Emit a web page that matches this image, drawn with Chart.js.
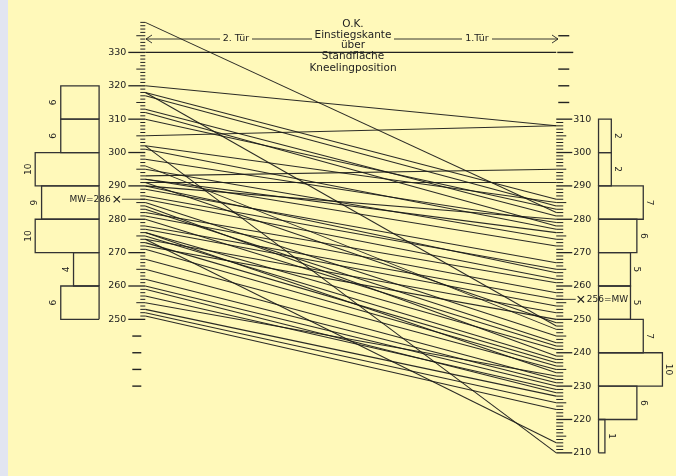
<!DOCTYPE html>
<html><head><meta charset="utf-8">
<script src="https://cdn.jsdelivr.net/npm/chart.js@4/dist/chart.umd.min.js"></script>
<style>
html,body{margin:0;padding:0;background:#e2e5f1;}
#wrap{width:676px;height:476px;position:relative;}
canvas{display:block;}
</style>
</head><body>
<div id="wrap"><canvas id="c" width="676" height="476"></canvas></div>
<script>
// ---- data ----
const leftValues  = [339,320,305,293,291,318,317,313,312,310,302,301,298,295,292,290,292,289,287,286,282,318,302,281,278,277,274,272,291,296,290,285,283,280,276,284,275,273,271,268,276,255,265,262,260,257,259,253,252,251,274];
const rightValues = [282,308,308,295,291,286,284,281,278,283,285,277,279,274,272,280,276,267,265,262,261,248,210,258,256,254,252,250,249,247,264,245,243,242,241,239,238,237,236,235,234,233,232,231,230,229,228,227,225,223,213];
const leftBinLows   = [250,260,270,280,290,300,310];
const leftCounts    = [6,4,10,9,10,6,6];
const rightBinLows  = [210,220,230,240,250,260,270,280,290,300];
const rightCounts   = [1,6,10,7,5,5,6,7,2,2];
const meanLeft = 286, meanRight = 256;
const leftTicks  = [250,260,270,280,290,300,310,320,330];
const rightTicks = [210,220,230,240,250,260,270,280,290,300,310];
const refLevel = 330;
const titleLines = ["O.K.","Einstiegskante","über","Standfläche","Kneelingposition"];
const door2 = "2. Tür", door1 = "1.Tür";

// ---- layout (x unit = one histogram count) ----
const PX = 6.5;
const AXIS_L = 0, AXIS_R = (560-142)/PX;
const HIST_L = (95-142)/PX, HIST_R = (603-142)/PX;
const XMIN = -142/PX, XMAX = XMIN + 676/PX;
const MW_L_X = (113-142)/PX, MW_R_X = (585-142)/PX;
const ink = '#222222';
const FONT = '"DejaVu Sans", sans-serif';

const datasets = [];
leftValues.forEach((lv,i)=>{
  datasets.push({data:[{x:AXIS_L,y:lv},{x:AXIS_R,y:rightValues[i]}],
    borderColor:'rgba(25,25,25,0.92)',borderWidth:1.05,pointRadius:0,tension:0});
});
datasets.push({data:[{x:AXIS_L,y:refLevel},{x:AXIS_R,y:refLevel}],borderColor:ink,borderWidth:1.4,pointRadius:0});
function histRect(base,lo,hi,c,dir){
  const o = base + dir*c;
  return [{x:base,y:lo},{x:o,y:lo},{x:o,y:hi},{x:base,y:hi},{x:base,y:lo}];
}
leftBinLows.forEach((lo,i)=>datasets.push({data:histRect(HIST_L,lo,lo+10,leftCounts[i],-1),borderColor:'#333',borderWidth:1.3,pointRadius:0,tension:0}));
rightBinLows.forEach((lo,i)=>datasets.push({data:histRect(HIST_R,lo,lo+10,rightCounts[i],1),borderColor:'#333',borderWidth:1.3,pointRadius:0,tension:0}));
// mean markers
datasets.push({data:[{x:MW_L_X,y:meanLeft},{x:MW_R_X,y:meanRight}],showLine:false,pointStyle:'crossRot',pointRadius:4.5,borderColor:ink,borderWidth:1.2});
datasets.push({data:[{x:MW_L_X+0.8,y:meanLeft},{x:AXIS_L,y:meanLeft}],borderColor:ink,borderWidth:0.9,pointRadius:0});
datasets.push({data:[{x:AXIS_R,y:meanRight},{x:MW_R_X-0.8,y:meanRight}],borderColor:ink,borderWidth:0.9,pointRadius:0});

const decor = {
  id:'decor',
  beforeDraw(chart){
    const c=chart.ctx; c.save();
    c.fillStyle='#e2e5f1'; c.fillRect(0,0,676,476);
    c.fillStyle='#fff9ba'; c.fillRect(8,0,668,476);
    c.restore();
  },
  afterDatasetsDraw(chart){
    const c=chart.ctx, ys=chart.scales.y, xs=chart.scales.x;
    const Y=v=>ys.getPixelForValue(v), X=v=>xs.getPixelForValue(v);
    const xL=X(AXIS_L), xR=X(AXIS_R);
    const seg=(x1,y1,x2,y2,w)=>{c.lineWidth=w||1;c.beginPath();c.moveTo(x1,y1);c.lineTo(x2,y2);c.stroke();};
    c.save(); c.strokeStyle=ink; c.fillStyle=ink;
    // left ruler
    for(let v=250;v<=339;v++){
      const y=Y(v); const len=v%10===0?17:(v%5===0?9:5);
      seg(xL-len,y,xL,y,v%10===0?1.3:1);
    }
    for(let v=245;v>=230;v-=5){const y=Y(v); seg(xL-13,y,xL-4,y,1.4);}
    // right ruler
    for(let v=210;v<=310;v++){
      const y=Y(v); const len=v%10===0?16:(v%5===0?10:7);
      seg(xR,y,xR+len,y,v%10===0?1.3:1);
    }
    for(let v=315;v<=335;v+=5){const y=Y(v); if(v===330) seg(xR+1,y,xR+17,y,1.4); else seg(xR+2,y,xR+13,y,1.4);}
    // tick labels
    c.font='9.5px '+FONT; c.textBaseline='middle';
    c.textAlign='right'; leftTicks.forEach(v=>c.fillText(String(v),xL-19,Y(v)));
    c.textAlign='left'; rightTicks.forEach(v=>c.fillText(String(v),xR+17,Y(v)));
    // histogram labels
    c.font='9px '+FONT;
    leftBinLows.forEach((lo,i)=>{
      const x=X(HIST_L-leftCounts[i])-7, y=Y(lo+5);
      c.save(); c.translate(x,y); c.rotate(-Math.PI/2); c.textAlign='center'; c.fillText(String(leftCounts[i]),0,0); c.restore();
    });
    rightBinLows.forEach((lo,i)=>{
      const x=X(HIST_R+rightCounts[i])+6, y=Y(lo+5);
      c.save(); c.translate(x,y); c.rotate(Math.PI/2); c.textAlign='center'; c.fillText(String(rightCounts[i]),0,0); c.restore();
    });
    // mean labels
    c.font='9px '+FONT;
    c.textAlign='right'; c.fillText('MW='+meanLeft, X(MW_L_X)-6, Y(meanLeft));
    c.textAlign='left'; c.fillText(meanRight+'=MW', X(MW_R_X)+6, Y(meanRight));
    // title
    c.font='10.5px '+FONT; c.textAlign='center';
    const ty=[24,35,45,56,68];
    titleLines.forEach((t,i)=>c.fillText(t,353,ty[i]));
    // door arrow line
    const ay=39;
    seg(146,ay,220,ay,0.9); seg(252,ay,312,ay,0.9); seg(394,ay,462,ay,0.9); seg(492,ay,558,ay,0.9);
    seg(146,ay,152,ay-4,0.9); seg(146,ay,152,ay+4,0.9);
    seg(558,ay,552,ay-4,0.9); seg(558,ay,552,ay+4,0.9);
    c.font='9.5px '+FONT;
    c.fillText(door2,236,ay); c.fillText(door1,477,ay);
    c.restore();
  }
};

new Chart(document.getElementById('c'),{
  type:'line',
  data:{datasets},
  options:{
    responsive:false, animation:false, events:[],
    layout:{padding:{left:0,right:0,top:1.2,bottom:9.8}},
    plugins:{legend:{display:false},tooltip:{enabled:false}},
    scales:{
      x:{type:'linear',min:XMIN,max:XMAX,display:false},
      y:{type:'linear',min:206,max:344,display:false}
    },
    elements:{line:{fill:false}}
  },
  plugins:[decor]
});
</script>
</body></html>
